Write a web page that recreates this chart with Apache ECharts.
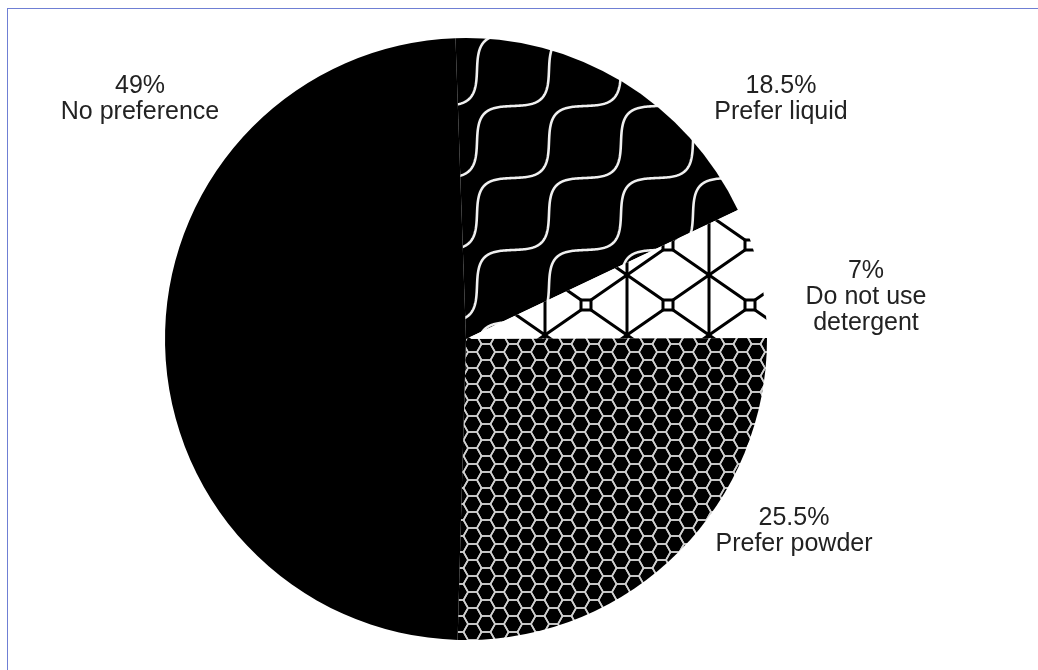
<!DOCTYPE html>
<html>
<head>
<meta charset="utf-8">
<title>Detergent preference</title>
<script src="https://cdn.jsdelivr.net/npm/echarts@6/dist/echarts.min.js"></script>
<style>
  html, body { margin: 0; padding: 0; background: #fff; }
  #frame {
    position: absolute; left: 7px; top: 8px; width: 1031px; height: 662px;
    border-top: 1px solid #6f7fd4; border-left: 1px solid #6f7fd4;
  }
  #chart { position: absolute; left: 0; top: 0; width: 1038px; height: 670px; }
</style>
</head>
<body>
<div id="frame"></div>
<div id="chart"></div>
<script>
  // slices clockwise from 12 o'clock
  var categories = ['Prefer liquid', 'Do not use\ndetergent', 'Prefer powder', 'No preference']
  var values = [18.5, 7, 25.5, 49]

  // where each label block sits (centre of the text)
  var labelPos = [[781, 99], [866, 297], [794, 531], [140, 99]]

  function makeTile(w, h, draw) {
    var c = document.createElement('canvas')
    c.width = w
    c.height = h
    var ctx = c.getContext('2d')
    draw(ctx, w, h)
    return c
  }

  // white wavy staircase lines on black
  var waveTile = makeTile(72, 72, function (ctx, w, h) {
    ctx.fillStyle = '#000'
    ctx.fillRect(0, 0, w, h)
    ctx.strokeStyle = '#f0f0f0'
    ctx.lineWidth = 2.6
    for (var k = -4; k <= 4; k++) {
      ctx.beginPath()
      for (var i = -400; i <= 400; i++) {
        var s = i / 100
        var g = 0.92 * Math.sin(2 * Math.PI * s) / (2 * Math.PI)
        var x = 9 + k * 72 + 72 * (s + g)
        var y = 34 + 72 * (-s + g)
        if (i === -400) ctx.moveTo(x, y)
        else ctx.lineTo(x, y)
      }
      ctx.stroke()
    }
  })

  // black lattice with small squares on white
  var latticeTile = makeTile(82, 60, function (ctx, w, h) {
    ctx.fillStyle = '#fff'
    ctx.fillRect(0, 0, w, h)
    ctx.strokeStyle = '#000'
    ctx.lineWidth = 3
    var q = 5, hw = w / 2, hh = h / 2
    for (var a = -1; a <= 1; a++) {
      for (var b = -1; b <= 1; b++) {
        var cx = 12 + a * w, cy = 5 + b * h
        ctx.strokeRect(cx - q, cy - q, q * 2, q * 2)
        ctx.beginPath()
        ctx.moveTo(cx - q, cy - q); ctx.lineTo(cx - hw, cy - hh)
        ctx.moveTo(cx + q, cy - q); ctx.lineTo(cx + hw, cy - hh)
        ctx.moveTo(cx - q, cy + q); ctx.lineTo(cx - hw, cy + hh)
        ctx.moveTo(cx + q, cy + q); ctx.lineTo(cx + hw, cy + hh)
        ctx.moveTo(cx + hw, cy - hh); ctx.lineTo(cx + hw, cy + hh)
        ctx.stroke()
      }
    }
  })

  // white honeycomb on black
  var hexTile = makeTile(27, 16, function (ctx, w, h) {
    ctx.fillStyle = '#000'
    ctx.fillRect(0, 0, w, h)
    ctx.strokeStyle = '#d0d0d0'
    ctx.lineWidth = 1.6
    var r = 9, hh = 8
    var centers = [[0, 0], [27, 0], [0, 16], [27, 16], [13.5, 8], [13.5, -8], [13.5, 24]]
    centers.forEach(function (c) {
      ctx.beginPath()
      ctx.moveTo(c[0] + r, c[1])
      ctx.lineTo(c[0] + r / 2, c[1] + hh)
      ctx.lineTo(c[0] - r / 2, c[1] + hh)
      ctx.lineTo(c[0] - r, c[1])
      ctx.lineTo(c[0] - r / 2, c[1] - hh)
      ctx.lineTo(c[0] + r / 2, c[1] - hh)
      ctx.closePath()
      ctx.stroke()
    })
  })

  var fills = [
    { image: waveTile, repeat: 'repeat' },
    { image: latticeTile, repeat: 'repeat' },
    { image: hexTile, repeat: 'repeat' },
    '#000'
  ]

  var chart = echarts.init(document.getElementById('chart'))
  chart.setOption({
    animation: false,
    backgroundColor: 'transparent',
    series: [{
      type: 'pie',
      center: [466, 339],
      radius: [0, 301],
      startAngle: 92,
      clockwise: true,
      silent: true,
      avoidLabelOverlap: false,
      itemStyle: { borderWidth: 0 },
      label: {
        show: true,
        position: 'outside',
        formatter: function (p) { return p.value + '%\n' + p.name },
        fontFamily: 'Liberation Sans, Arial, sans-serif',
        fontSize: 25,
        lineHeight: 26,
        color: '#222'
      },
      labelLine: { show: false },
      labelLayout: function (p) {
        var pos = labelPos[p.dataIndex]
        return { x: pos[0], y: pos[1], align: 'center', verticalAlign: 'middle' }
      },
      data: categories.map(function (name, i) {
        return { name: name, value: values[i], itemStyle: { color: fills[i] } }
      })
    }]
  })
</script>
</body>
</html>
